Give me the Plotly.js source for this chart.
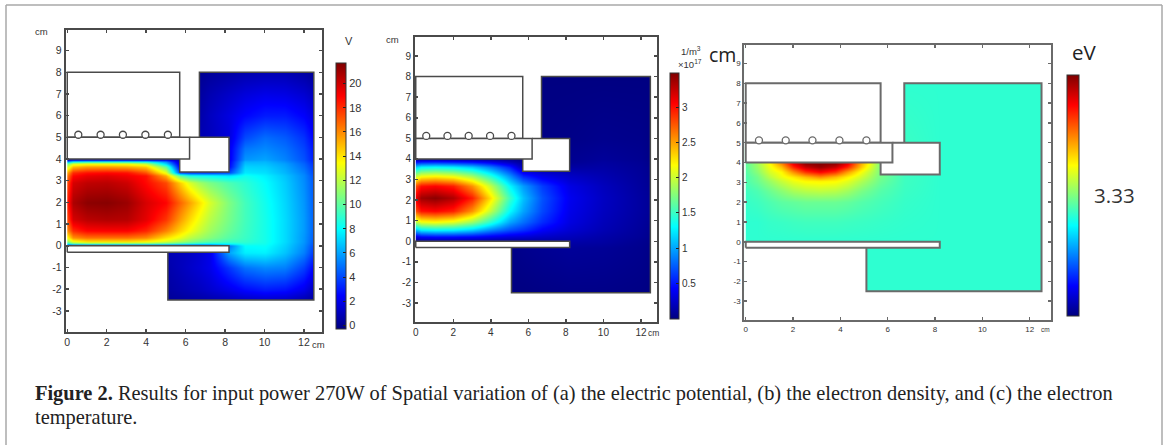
<!DOCTYPE html>
<html><head><meta charset="utf-8">
<script src="https://cdn.plot.ly/plotly-3.0.1.min.js"></script>
<style>html,body{margin:0;padding:0;background:#fff}#chart{width:1168px;height:445px}</style>
</head><body><div id="chart"></div>
<script>
// ---------- Panel (a): electric potential, V ----------
const potentialX = [0,0.3,1,2,3,4,5,5.7,6.2,6.7,7.2,8.2,9,10,11,12,12.5];
const potentialY = [-2.5,-2,-1,-0.3,0,0.1,0.2,0.4,0.7,1.2,2,2.9,3.25,3.4,3.65,3.8,3.9,4,4.5,5,6,7,8];
const potentialZ = [
 [0,0,0,0,0,0,0.2,0.3,0.4,0.5,0.6,0.8,1,1.2,1.1,0.6,0.3],
 [0,0,0,0,0,0,0.4,0.7,0.9,1.1,1.4,2,2.6,3,2.8,2,1],
 [0,0,0,0,0,0,0.6,1,1.3,1.6,2,3.6,4.9,5.4,5.2,3.8,2.4],
 [1,1,1,1,1,1,0.8,1,1.2,1.5,2,6,7.6,7.7,6.7,5.2,3.6],
 [1,1,1,1,1,1,1,1,1,1,2,5,8,8.1,7,5.5,4],
 [8,9.5,10,10,10,10,9.5,9,8.6,8.2,7.8,8,8.6,8.3,7.1,5.6,4.2],
 [11,13,14,14,14,13.5,12.5,11.5,10.8,10.2,9.8,9.2,9,8.4,7.2,5.7,4.3],
 [13.5,15.8,16.5,16.5,16.5,16,14.1,13,12,11.4,10.8,9.8,9.2,8.4,7.2,5.7,4.4],
 [16,18,18.9,19,19,18.2,16.2,14.4,13.3,12.3,11.4,10.2,9.3,8.4,7.2,5.8,4.5],
 [17.5,19.8,20.4,20.6,20.5,19.5,17.8,15.6,14.2,13,11.9,10.5,9.4,8.4,7.2,5.8,4.5],
 [18.5,20.7,21.4,21.5,21.1,19.8,18.9,16.8,15.4,14,12.6,10.7,9.4,8.3,7.1,5.7,4.4],
 [17.5,19.8,20.3,20.4,20,18.8,17.4,14.5,12.6,11.4,10.6,9.6,8.9,8,6.9,5.5,4.3],
 [16.5,18.8,19.4,19.6,19.2,18.6,15.2,10,8.5,8.2,8,7.5,8.3,7.7,6.7,5.4,4.1],
 [15.5,18,18.6,18.8,18.6,17.2,13,4,3.5,3.5,3.5,4,7.5,7.3,6.4,5.2,3.9],
 [12.5,14.8,15.5,15.5,15.2,14.5,10,2,2,2,2,2.5,7,6.9,6.1,4.8,3.6],
 [10.5,12.5,13,13,13,12,7,1.5,1.5,1.5,1.5,2.3,6.6,6.6,5.9,4.6,3.4],
 [6,8,8.5,8.5,8.5,8,5.5,1,1,1,1,2.2,6.3,6.4,5.6,4.4,3.2],
 [1,1,1,1,1,1,1.5,1,1,1,1,2,5.7,6,5.3,4.2,3],
 [1,1,1,1,1,1,1,1,1,1,1,2,5,5.4,4.9,3.9,2.8],
 [0.5,0.5,0.5,0.5,0.5,0.5,0.5,0.5,0.5,0.8,1,1.7,4,4.8,4.4,3.5,2.4],
 [0.5,0.5,0.5,0.5,0.5,0.5,0.5,0.5,0.5,0.6,1.1,1.8,2.5,3,3,2.4,1.7],
 [0.4,0.4,0.4,0.4,0.4,0.4,0.4,0.4,0.4,0.4,0.8,1.3,1.7,2,1.9,1.5,1],
 [0.1,0.1,0.1,0.1,0.1,0.1,0.1,0.1,0.1,0.1,0.3,0.5,0.7,0.8,0.8,0.5,0.2]
];
const potentialTicks = [0,2,4,6,8,10,12,14,16,18,20];

// ---------- Panel (b): electron density, 1/m3 x 10^17 ----------
const densityX = [0,0.3,1,2,3,4,5,5.7,6.7,8.2,10,12,12.5];
const densityY = [-2.5,-0.3,0,0.2,0.55,0.95,1.5,2.1,2.7,3.2,3.6,3.85,4,5,8];
const densityZ = [
 [0,0,0,0,0,0,0.01,0.01,0.02,0.03,0.03,0.02,0.01],
 [0,0,0,0,0,0,0.03,0.05,0.07,0.09,0.08,0.05,0.03],
 [0.03,0.04,0.05,0.05,0.05,0.05,0.06,0.07,0.1,0.14,0.12,0.06,0.04],
 [0.35,0.42,0.45,0.45,0.42,0.36,0.3,0.28,0.24,0.2,0.14,0.08,0.05],
 [1.1,1.26,1.31,1.28,1.15,0.9,0.7,0.6,0.42,0.28,0.18,0.09,0.06],
 [1.95,2.13,2.18,2.1,1.85,1.45,1,0.82,0.58,0.33,0.2,0.1,0.07],
 [2.8,3,3.05,2.95,2.55,1.95,1.3,1,0.68,0.36,0.22,0.11,0.08],
 [3.15,3.38,3.45,3.32,2.95,2.25,1.5,1.1,0.72,0.38,0.23,0.11,0.08],
 [2.8,3,3.05,2.95,2.55,1.95,1.28,0.97,0.64,0.34,0.21,0.1,0.07],
 [1.95,2.13,2.18,2.1,1.85,1.42,0.92,0.55,0.36,0.24,0.17,0.09,0.06],
 [1.15,1.28,1.31,1.26,1.12,0.85,0.52,0.15,0.1,0.12,0.13,0.08,0.05],
 [0.48,0.53,0.55,0.52,0.47,0.36,0.2,0.08,0.05,0.07,0.11,0.07,0.04],
 [0.08,0.1,0.1,0.1,0.1,0.08,0.06,0.04,0.04,0.06,0.09,0.06,0.03],
 [0,0,0,0,0,0,0,0.02,0.02,0.03,0.05,0.04,0.02],
 [0,0,0,0,0,0,0,0.01,0.01,0.01,0.01,0.01,0.01]
];
const densityTicks = [0.5,1,1.5,2,2.5,3];
const densityTickText = ['0.5','1','1.5','2','2.5','3'];

// ---------- Panel (c): electron temperature, eV ----------
const temperatureX = [0,0.5,1,1.5,2,2.5,3.15,3.8,4.3,4.9,5.7,6.7,8.2,12.5];
const temperatureY = [-2.5,0,1,2,2.6,3.1,3.3,3.55,3.8,4,8];
const temperatureZ = [
 [2.8,2.8,2.8,2.8,2.8,2.8,2.8,2.8,2.8,2.8,2.8,2.8,2.8,2.8],
 [2.8,2.8,2.8,2.8,2.8,2.8,2.8,2.8,2.8,2.8,2.8,2.8,2.8,2.8],
 [2.8,2.8,2.85,2.87,2.9,2.92,2.92,2.92,2.9,2.88,2.85,2.82,2.8,2.8],
 [2.85,2.9,3,3.1,3.15,3.2,3.2,3.2,3.15,3.05,2.95,2.85,2.8,2.8],
 [2.9,3,3.2,3.4,3.6,3.7,3.75,3.7,3.55,3.3,3.05,2.88,2.8,2.8],
 [3,3.2,3.5,3.8,4.05,4.2,4.25,4.2,4,3.65,3.2,2.9,2.8,2.8],
 [3,3.25,3.7,4.05,4.3,4.6,4.9,4.6,4.25,3.85,3.25,2.9,2.8,2.8],
 [3.05,3.4,3.9,4.2,4.9,5.5,5.83,5.5,4.8,4.1,3.3,2.9,2.8,2.8],
 [3.1,3.5,4.05,4.6,5.6,6.2,6.5,6.2,5.6,4.5,3.3,2.9,2.8,2.8],
 [3.1,3.55,4.16,5,6,6.6,6.66,6.6,6,4.7,3.3,2.9,2.8,2.8],
 [2.8,2.8,2.8,2.8,2.8,2.8,2.8,2.8,2.8,2.8,2.8,2.8,2.8,2.8]
];
const temperatureTicks = [3.33];

// ---------- Shared axis labels and device geometry (cm) ----------
const xTicks = [0,2,4,6,8,10,12];
const yTicks = [-3,-2,-1,0,1,2,3,4,5,6,7,8,9];
const yTickText = ['-3','-2','-1','0','1','2','3','4','5','6','7','8','9'];
const coilX = [0.56,1.69,2.82,3.96,5.1];
const coilY = [5.12,5.12,5.12,5.12,5.12];
const blankRegions = [
 {x:[12.5,13.3,13.3,12.5,12.5], y:[-4.5,-4.5,10.5,10.5,-4.5]},
 {x:[-0.5,13.3,13.3,-0.5,-0.5], y:[8,8,10.5,10.5,8]},
 {x:[-0.5,13.3,13.3,-0.5,-0.5], y:[-4.5,-4.5,-2.5,-2.5,-4.5]},
 {x:[-0.5,0,0,-0.5,-0.5], y:[-4.5,-4.5,10.5,10.5,-4.5]},
 {x:[-0.5,5.1,5.1,-0.5,-0.5], y:[-3,-3,-0.2,-0.2,-3]},
 {x:[-0.5,6.7,6.7,-0.5,-0.5], y:[4.8,4.8,8.5,8.5,4.8]},
 {x:[5.7,8.2,8.2,5.7,5.7], y:[3.4,3.4,5,5,3.4]}
];
const wallRegions = [
 {x:[0,5.7,5.7,0,0], y:[5,5,8,8,5]},
 {x:[0,6.2,6.2,0,0], y:[4,4,5,5,4]},
 {x:[0,8.2,8.2,0,0], y:[-0.3,-0.3,0,0,-0.3]}
];
const wallLines = [
 {x:[5.7,5.7,8.2,8.2,6.2], y:[4,3.4,3.4,5,5]},
 {x:[6.7,6.7,12.5,12.5,5.1,5.1], y:[5,8,8,-2.5,-2.5,-0.3]}
];

const W = 1168, H = 445;
const jet = [[0,'#00007f'],[0.125,'#0000ff'],[0.375,'#00ffff'],[0.625,'#ffff00'],[0.875,'#ff0000'],[1,'#7f0000']];

const panels = [
 {x:potentialX,y:potentialY,z:potentialZ,zmin:-0.3,zmax:21.7,tv:potentialTicks,tt:potentialTicks.map(String),
  frame:[65.7,322.3,30,331.7],xr:[-0.08,12.93],yr:[-3.96,9.95],bar:[336,346,63.3,329],
  tick:10.5,bartick:11,line:'#4a4a4a',lw:1.5,frameW:2,sym:7},
 {x:densityX,y:densityY,z:densityZ,zmin:0,zmax:3.49,tv:densityTicks,tt:densityTickText,
  frame:[415,657.3,37.3,322],xr:[-0.04,12.87],yr:[-3.92,9.91],bar:[670,679.3,72.7,318.7],
  tick:10,bartick:10,line:'#4a4a4a',lw:1.5,frameW:2,sym:7},
 {x:temperatureX,y:temperatureY,z:temperatureZ,zmin:0,zmax:6.66,tv:temperatureTicks,tt:['3.33'],
  frame:[744.3,1051,44.7,320],xr:[-0.06,12.9],yr:[-3.95,9.95],bar:[1067.3,1079,75,316],
  tick:8,bartick:20.5,line:'#6a6a6a',lw:2,frameW:2,sym:7}
];

const data = [], layout = {
 width:W, height:H, margin:{l:0,r:0,t:0,b:0,autoexpand:false},
 paper_bgcolor:'#fff', plot_bgcolor:'#fff', showlegend:false, hovermode:false,
 annotations:[], shapes:[
  {type:'line',xref:'paper',yref:'paper',x0:6/W,x1:6/W,y0:0,y1:1-5/H,line:{color:'#a8a8a8',width:1.5}},
  {type:'line',xref:'paper',yref:'paper',x0:6/W,x1:1162/W,y0:1-5/H,y1:1-5/H,line:{color:'#a8a8a8',width:1.5}},
  {type:'line',xref:'paper',yref:'paper',x0:1162/W,x1:1162/W,y0:0,y1:1-5/H,line:{color:'#a8a8a8',width:1.5}}
 ]
};
function note(text,px,py,size,family,color,anchor){
 layout.annotations.push({text,xref:'paper',yref:'paper',x:px/W,y:1-py/H,showarrow:false,
  xanchor:anchor||'center',yanchor:'middle',align:'left',
  font:{size,family:family||'"Liberation Sans",sans-serif',color:color||'#333'}});
}
panels.forEach((p,i)=>{
 const s = i===0?'':String(i+1), xa='x'+s, ya='y'+s;
 const [l,r,t,b] = p.frame, [bl,br,bt,bb] = p.bar;
 layout['xaxis'+s] = {domain:[l/W,r/W],range:p.xr,anchor:ya,tickmode:'array',tickvals:xTicks,ticktext:xTicks.map(String),
  ticks:'inside',ticklen:3,tickwidth:1.5,tickcolor:p.line,showgrid:false,zeroline:false,showline:true,mirror:'ticks',
  linecolor:p.line,linewidth:p.frameW,tickfont:{size:p.tick,family:'"Liberation Sans",sans-serif',color:'#333'}};
 layout['yaxis'+s] = {domain:[1-b/H,1-t/H],range:p.yr,anchor:xa,tickmode:'array',tickvals:yTicks,ticktext:yTickText,
  ticks:'inside',ticklen:3,tickwidth:1.5,tickcolor:p.line,showgrid:false,zeroline:false,showline:true,mirror:'ticks',
  linecolor:p.line,linewidth:p.frameW,tickfont:{size:p.tick,family:'"Liberation Sans",sans-serif',color:'#333'}};
 data.push({type:'heatmap',x:p.x,y:p.y,z:p.z,xaxis:xa,yaxis:ya,zmin:p.zmin,zmax:p.zmax,zsmooth:'best',
  colorscale:jet,hoverinfo:'skip',
  colorbar:{x:bl/W,xanchor:'left',xpad:0,ypad:0,y:1-bb/H,yanchor:'bottom',lenmode:'pixels',len:bb-bt,thicknessmode:'pixels',thickness:br-bl,
   outlinecolor:'#333',outlinewidth:1,tickmode:'array',tickvals:p.tv,ticktext:p.tt,ticks:i===2?'outside':'inside',ticklen:i===2?11:3,
   tickcolor:i===2?'rgba(0,0,0,0)':'#222',tickfont:{size:p.bartick,family:i===2?'"Open Sans",sans-serif':'"Liberation Sans",sans-serif',color:'#333'}}});
 const base = {type:'scatter',mode:'lines',xaxis:xa,yaxis:ya,hoverinfo:'skip',showlegend:false};
 blankRegions.forEach(g=>data.push({...base,x:g.x,y:g.y,fill:'toself',fillcolor:'#fff',line:{width:0,color:'#fff'}}));
 wallLines.forEach(g=>data.push({...base,x:g.x,y:g.y,line:{color:p.line,width:p.lw}}));
 wallRegions.forEach(g=>data.push({...base,x:g.x,y:g.y,fill:'toself',fillcolor:'#fff',line:{color:p.line,width:p.lw}}));
 data.push({type:'scatter',mode:'markers',x:coilX,y:coilY,xaxis:xa,yaxis:ya,hoverinfo:'skip',showlegend:false,
  marker:{symbol:'circle',size:p.sym,color:'#fff',line:{color:p.line,width:1.3}}});
});

// Unit labels
note('cm',41,31,9.5);
note('cm',318,344,9.5);
note('V',349,41,11);
note('cm',392,39,9.5);
note('cm',653,333,8.5);
note('1/m<sup>3</sup>',691,51,9.5);
note('×10<sup>17</sup>',690,64,9.5);
note('cm',723,55,19.5,'"Open Sans",sans-serif','#222');
note('cm',1045,329,6.5);
note('eV',1084.5,52,20.5,'"Open Sans",sans-serif','#222');

// Caption
note('<b>Figure 2.</b> Results for input power 270W of Spatial variation of (a) the electric potential, (b) the electron density, and (c) the electron',
 33,393,20.4,'"Liberation Serif",serif','#222','left');
note('temperature.',33,417,20.4,'"Liberation Serif",serif','#222','left');

Plotly.newPlot('chart',data,layout,{displayModeBar:false,staticPlot:true});
</script></body></html>
